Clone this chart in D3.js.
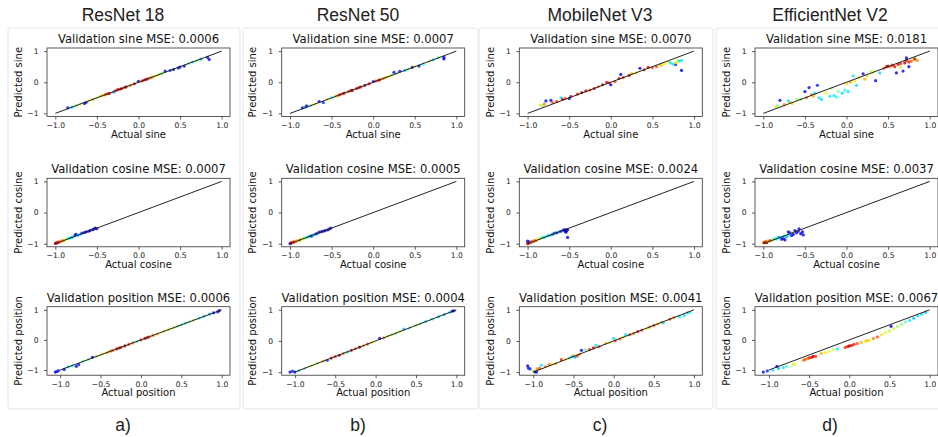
<!DOCTYPE html>
<html><head><meta charset="utf-8">
<script src="https://cdn.jsdelivr.net/npm/d3@7"></script>
<style>
html,body{margin:0;padding:0;background:#fff;}
svg{display:block;}
</style></head>
<body>
<svg id="chart" width="938" height="437"></svg>
<script>
// ---------------- DATA ----------------
const models = ["ResNet 18", "ResNet 50", "MobileNet V3", "EfficientNet V2"];
const panelLetters = ["a)", "b)", "c)", "d)"];
const quantities = ["sine", "cosine", "position"];
const sineMSE = ["0.0006", "0.0007", "0.0070", "0.0181"];
const cosineMSE = ["0.0007", "0.0005", "0.0024", "0.0037"];
const positionMSE = ["0.0006", "0.0004", "0.0041", "0.0067"];
const xTicks = [-1.0, -0.5, 0.0, 0.5, 1.0];
const yTicks = [-1, 0, 1];

// points: [actual, predicted, colour value 0..1 (jet)]
const resnet18Sine = [[-0.85,-0.82,0.1],[-0.8,-0.8,0.35],[-0.75,-0.75,0.5],[-0.7,-0.7,0.6],[-0.65,-0.68,0.1],[-0.63,-0.65,0.15],[-0.6,-0.6,0.6],[-0.55,-0.55,0.7],[-0.5,-0.5,0.55],[-0.45,-0.44,0.7],[-0.42,-0.42,0.65],[-0.4,-0.4,0.8],[-0.37,-0.37,0.85],[-0.35,-0.36,0.9],[-0.3,-0.32,0.3],[-0.28,-0.28,0.85],[-0.25,-0.24,0.95],[-0.22,-0.22,0.88],[-0.2,-0.2,0.9],[-0.17,-0.17,0.8],[-0.15,-0.15,0.97],[-0.1,-0.1,0.75],[-0.05,-0.05,0.9],[0,0.03,0.1],[0.03,0.03,0.7],[0.05,0.05,0.85],[0.08,0.08,0.97],[0.1,0.1,0.9],[0.12,0.12,0.8],[0.15,0.15,0.75],[0.18,0.17,0.7],[0.22,0.22,0.6],[0.25,0.25,0.55],[0.28,0.28,0.5],[0.32,0.36,0.1],[0.38,0.38,0.2],[0.42,0.41,0.1],[0.48,0.46,0.1],[0.5,0.49,0.15],[0.55,0.52,0.1],[0.6,0.6,0.45],[0.65,0.65,0.35],[0.7,0.69,0.5],[0.75,0.74,0.3],[0.83,0.8,0.1],[0.85,0.73,0.1]];
const resnet50Sine = [[-0.85,-0.82,0.1],[-0.82,-0.8,0.3],[-0.8,-0.76,0.1],[-0.75,-0.75,0.5],[-0.7,-0.7,0.6],[-0.65,-0.62,0.1],[-0.6,-0.65,0.15],[-0.55,-0.55,0.65],[-0.5,-0.5,0.4],[-0.45,-0.45,0.7],[-0.42,-0.42,0.75],[-0.4,-0.4,0.85],[-0.37,-0.37,0.8],[-0.35,-0.35,0.9],[-0.3,-0.3,0.8],[-0.27,-0.27,0.9],[-0.25,-0.26,0.95],[-0.2,-0.2,0.9],[-0.17,-0.17,0.88],[-0.15,-0.15,0.85],[-0.1,-0.1,0.97],[-0.05,-0.05,0.9],[0,0.02,0.15],[0.03,0.04,0.85],[0.06,0.06,0.8],[0.08,0.08,0.9],[0.12,0.12,0.75],[0.15,0.15,0.7],[0.18,0.18,0.65],[0.22,0.22,0.55],[0.25,0.32,0.1],[0.28,0.28,0.5],[0.32,0.35,0.15],[0.38,0.38,0.35],[0.42,0.42,0.5],[0.47,0.48,0.1],[0.5,0.5,0.6],[0.55,0.52,0.1],[0.6,0.58,0.4],[0.68,0.68,0.55],[0.72,0.72,0.35],[0.78,0.78,0.45],[0.85,0.75,0.1],[0.85,0.8,0.1]];
const mobilenetSine = [[-0.85,-0.73,0.65],[-0.82,-0.75,0.5],[-0.8,-0.7,0.75],[-0.78,-0.6,0.1],[-0.72,-0.58,0.1],[-0.7,-0.65,0.8],[-0.65,-0.62,0.85],[-0.6,-0.5,0.35],[-0.58,-0.55,0.9],[-0.55,-0.52,0.8],[-0.5,-0.52,0.1],[-0.48,-0.45,0.9],[-0.4,-0.38,0.85],[-0.35,-0.33,0.95],[-0.3,-0.28,0.9],[-0.25,-0.25,0.8],[-0.2,-0.2,0.9],[-0.15,-0.14,0.75],[-0.1,-0.08,0.95],[-0.05,0,0.9],[-0.02,-0.02,0.85],[0,-0.08,0.1],[0.05,0.02,0.8],[0.1,0.12,0.9],[0.12,0.25,0.1],[0.15,0.15,0.85],[0.22,0.22,0.9],[0.25,0.28,0.7],[0.3,0.3,0.65],[0.35,0.45,0.1],[0.4,0.4,0.85],[0.45,0.48,0.9],[0.5,0.47,0.8],[0.55,0.5,0.8],[0.6,0.55,0.7],[0.62,0.58,0.65],[0.65,0.6,0.6],[0.7,0.65,0.65],[0.72,0.62,0.35],[0.75,0.58,0.35],[0.78,0.57,0.1],[0.78,0.62,0.65],[0.8,0.7,0.6],[0.82,0.68,0.35],[0.85,0.7,0.35],[0.85,0.38,0.1]];
const efficientnetSine = [[-0.85,-0.78,0.65],[-0.83,-0.75,0.5],[-0.8,-0.58,0.1],[-0.75,-0.72,0.75],[-0.7,-0.6,0.35],[-0.68,-0.65,0.7],[-0.65,-0.68,0.65],[-0.6,-0.55,0.55],[-0.55,-0.55,0.5],[-0.5,-0.3,0.1],[-0.48,-0.5,0.75],[-0.45,-0.17,0.1],[-0.42,-0.4,0.75],[-0.4,-0.45,0.7],[-0.38,-0.35,0.35],[-0.35,-0.1,0.15],[-0.33,-0.5,0.35],[-0.3,-0.55,0.35],[-0.25,-0.35,0.6],[-0.2,-0.45,0.35],[-0.18,-0.2,0.55],[-0.15,-0.43,0.35],[-0.12,-0.48,0.4],[-0.1,-0.3,0.5],[-0.05,-0.35,0.35],[-0.02,-0.25,0.4],[0.0,-0.05,0.65],[0.02,-0.3,0.35],[0.05,0.0,0.7],[0.08,0.2,0.35],[0.1,0.05,0.65],[0.12,-0.1,0.35],[0.15,0.15,0.65],[0.2,0.27,0.1],[0.22,0.1,0.7],[0.25,0.2,0.65],[0.3,0.35,0.55],[0.32,0.3,0.6],[0.35,0.05,0.1],[0.4,0.3,0.35],[0.45,0.45,0.8],[0.48,0.5,0.9],[0.5,0.52,0.95],[0.52,0.5,0.75],[0.55,0.55,0.85],[0.58,0.5,0.88],[0.6,0.3,0.1],[0.62,0.57,0.9],[0.65,0.6,0.85],[0.65,0.48,0.55],[0.68,0.36,0.1],[0.7,0.62,0.95],[0.72,0.7,0.9],[0.72,0.78,0.1],[0.75,0.65,0.88],[0.75,0.5,0.1],[0.78,0.68,0.8],[0.8,0.72,0.65],[0.82,0.75,0.95],[0.85,0.7,0.75]];

const resnet18Cosine = [[-1,-0.99,0.97],[-0.99,-0.98,0.95],[-0.98,-0.97,0.9],[-0.97,-0.96,0.88],[-0.96,-0.95,0.85],[-0.95,-0.94,0.8],[-0.93,-0.92,0.7],[-0.92,-0.91,0.75],[-0.9,-0.9,0.75],[-0.88,-0.87,0.6],[-0.86,-0.85,0.5],[-0.84,-0.83,0.4],[-0.82,-0.81,0.35],[-0.8,-0.8,0.3],[-0.78,-0.77,0.35],[-0.76,-0.72,0.15],[-0.75,-0.7,0.1],[-0.73,-0.73,0.3],[-0.7,-0.7,0.35],[-0.68,-0.66,0.15],[-0.65,-0.64,0.1],[-0.63,-0.62,0.1],[-0.6,-0.6,0.12],[-0.58,-0.57,0.05],[-0.55,-0.55,0.1],[-0.53,-0.52,0.1],[-0.52,-0.5,0.05],[-0.5,-0.52,0.1]];
const resnet50Cosine = [[-1,-1.0,0.1],[-0.99,-0.98,0.97],[-0.98,-0.97,0.9],[-0.97,-0.96,0.85],[-0.96,-0.95,0.8],[-0.95,-0.94,0.85],[-0.93,-0.93,0.75],[-0.92,-0.91,0.7],[-0.9,-0.9,0.65],[-0.88,-0.88,0.8],[-0.86,-0.86,0.6],[-0.84,-0.83,0.55],[-0.82,-0.82,0.5],[-0.8,-0.8,0.45],[-0.78,-0.78,0.35],[-0.76,-0.76,0.3],[-0.74,-0.75,0.1],[-0.72,-0.72,0.35],[-0.7,-0.7,0.3],[-0.68,-0.68,0.15],[-0.65,-0.63,0.1],[-0.62,-0.61,0.1],[-0.6,-0.6,0.15],[-0.58,-0.58,0.1],[-0.55,-0.56,0.1],[-0.53,-0.53,0.05],[-0.51,-0.5,0.1]];
const mobilenetCosine = [[-1,-1.0,0.9],[-1,-0.92,0.1],[-0.99,-0.98,0.95],[-0.98,-0.94,0.15],[-0.97,-0.97,0.85],[-0.96,-0.95,0.8],[-0.95,-0.93,0.75],[-0.93,-0.92,0.85],[-0.92,-0.9,0.7],[-0.9,-0.9,0.8],[-0.88,-0.86,0.6],[-0.86,-0.85,0.65],[-0.84,-0.82,0.5],[-0.82,-0.8,0.45],[-0.8,-0.8,0.35],[-0.78,-0.77,0.4],[-0.75,-0.74,0.3],[-0.72,-0.72,0.35],[-0.7,-0.7,0.25],[-0.68,-0.66,0.2],[-0.65,-0.65,0.15],[-0.62,-0.62,0.3],[-0.6,-0.6,0.15],[-0.57,-0.56,0.1],[-0.55,-0.55,0.1],[-0.55,-0.6,0.1],[-0.54,-0.63,0.1],[-0.53,-0.58,0.05],[-0.52,-0.8,0.1],[-0.52,-0.55,0.1]];
const efficientnetCosine = [[-1,-0.98,0.7],[-0.99,-0.96,0.85],[-0.98,-0.95,0.9],[-0.97,-0.93,0.8],[-0.96,-0.97,0.95],[-0.95,-0.92,0.75],[-0.93,-0.92,0.6],[-0.92,-0.9,0.85],[-0.9,-0.9,0.55],[-0.88,-0.86,0.45],[-0.86,-0.84,0.4],[-0.84,-0.85,0.35],[-0.82,-0.8,0.35],[-0.8,-0.8,0.3],[-0.78,-0.86,0.15],[-0.76,-0.83,0.1],[-0.75,-0.76,0.35],[-0.74,-0.88,0.1],[-0.72,-0.78,0.3],[-0.7,-0.72,0.35],[-0.7,-0.62,0.1],[-0.68,-0.65,0.15],[-0.66,-0.74,0.1],[-0.64,-0.7,0.1],[-0.62,-0.58,0.1],[-0.6,-0.65,0.1],[-0.58,-0.6,0.15],[-0.57,-0.52,0.1],[-0.55,-0.68,0.1],[-0.53,-0.62,0.1],[-0.52,-0.72,0.1]];

const resnet18Position = [[-1.06,-1.07,0.1],[-1.04,-1.05,0.1],[-1.02,-1.02,0.15],[-0.95,-0.98,0.1],[-0.9,-0.9,0.35],[-0.85,-0.86,0.4],[-0.8,-0.88,0.1],[-0.77,-0.82,0.15],[-0.72,-0.72,0.45],[-0.65,-0.65,0.5],[-0.6,-0.58,0.1],[-0.55,-0.55,0.55],[-0.48,-0.47,0.65],[-0.42,-0.42,0.7],[-0.38,-0.38,0.75],[-0.35,-0.35,0.8],[-0.3,-0.3,0.9],[-0.27,-0.27,0.95],[-0.25,-0.25,0.85],[-0.2,-0.2,0.95],[-0.15,-0.15,0.8],[-0.1,-0.1,0.75],[-0.05,-0.06,0.4],[0.0,0.0,0.85],[0.05,0.05,0.9],[0.08,0.08,0.95],[0.1,0.1,0.8],[0.15,0.15,0.75],[0.2,0.2,0.7],[0.28,0.28,0.65],[0.35,0.35,0.6],[0.4,0.4,0.55],[0.45,0.45,0.5],[0.5,0.5,0.45],[0.55,0.56,0.4],[0.6,0.6,0.5],[0.65,0.66,0.55],[0.72,0.72,0.4],[0.78,0.78,0.35],[0.85,0.86,0.3],[0.9,0.9,0.1],[0.95,0.93,0.15],[0.97,0.97,0.1]];
const resnet50Position = [[-1.06,-1.0,0.1],[-1.03,-0.97,0.15],[-1.0,-1.0,0.05],[-0.95,-0.95,0.4],[-0.88,-0.88,0.5],[-0.8,-0.8,0.6],[-0.72,-0.72,0.55],[-0.65,-0.65,0.7],[-0.6,-0.62,0.15],[-0.55,-0.55,0.9],[-0.5,-0.5,0.85],[-0.45,-0.46,0.95],[-0.4,-0.4,0.75],[-0.35,-0.36,0.35],[-0.3,-0.3,0.9],[-0.25,-0.25,0.8],[-0.2,-0.2,0.95],[-0.15,-0.15,0.7],[-0.1,-0.1,0.8],[-0.05,-0.05,0.65],[0.05,0.08,0.1],[0.1,0.1,0.75],[0.15,0.15,0.6],[0.2,0.2,0.55],[0.25,0.25,0.5],[0.3,0.3,0.6],[0.35,0.38,0.3],[0.42,0.42,0.45],[0.5,0.5,0.55],[0.55,0.55,0.5],[0.62,0.62,0.35],[0.7,0.7,0.4],[0.78,0.78,0.35],[0.85,0.85,0.3],[0.92,0.92,0.35],[0.95,0.96,0.1],[0.97,0.97,0.05]];
const mobilenetPosition = [[-1.07,-0.8,0.1],[-1.06,-0.87,0.1],[-1.04,-0.9,0.15],[-1.0,-0.96,0.65],[-0.98,-0.99,0.1],[-0.96,-1.0,0.1],[-0.95,-0.9,0.75],[-0.92,-0.88,0.8],[-0.9,-0.78,0.35],[-0.85,-0.82,0.75],[-0.8,-0.76,0.8],[-0.78,-0.75,0.65],[-0.72,-0.73,0.7],[-0.65,-0.6,0.85],[-0.6,-0.6,0.6],[-0.55,-0.55,0.45],[-0.52,-0.5,0.35],[-0.5,-0.47,0.7],[-0.48,-0.52,0.3],[-0.45,-0.48,0.8],[-0.42,-0.42,0.75],[-0.4,-0.3,0.1],[-0.35,-0.28,0.5],[-0.3,-0.28,0.85],[-0.25,-0.22,0.9],[-0.22,-0.14,0.35],[-0.18,-0.18,0.8],[-0.1,-0.08,0.7],[-0.05,-0.06,0.55],[0.0,0.08,0.35],[0.02,0.0,0.8],[0.08,0.06,0.75],[0.12,0.12,0.65],[0.15,0.2,0.35],[0.2,0.2,0.8],[0.25,0.24,0.75],[0.3,0.3,0.85],[0.35,0.35,0.8],[0.42,0.4,0.6],[0.45,0.45,0.75],[0.5,0.5,0.8],[0.55,0.55,0.7],[0.6,0.6,0.75],[0.62,0.58,0.35],[0.7,0.7,0.8],[0.75,0.75,0.75],[0.82,0.78,0.35],[0.88,0.82,0.35],[0.92,0.9,0.35],[0.95,0.92,0.4]];
const efficientnetPosition = [[-1.07,-1.07,0.1],[-1.02,-1.03,0.15],[-0.95,-1.0,0.35],[-0.9,-0.88,0.1],[-0.88,-0.95,0.3],[-0.82,-0.92,0.35],[-0.78,-0.88,0.45],[-0.7,-0.82,0.55],[-0.68,-0.8,0.6],[-0.57,-0.68,0.75],[-0.55,-0.65,0.8],[-0.52,-0.62,0.75],[-0.5,-0.6,0.85],[-0.47,-0.58,0.9],[-0.45,-0.55,0.95],[-0.42,-0.55,0.85],[-0.35,-0.45,0.7],[-0.3,-0.42,0.65],[-0.25,-0.38,0.6],[-0.2,-0.32,0.55],[-0.15,-0.3,0.35],[-0.05,-0.25,0.85],[-0.02,-0.22,0.9],[0.0,-0.2,0.95],[0.03,-0.18,0.9],[0.06,-0.15,0.85],[0.1,-0.12,0.8],[0.15,-0.08,0.7],[0.2,-0.05,0.65],[0.22,-0.02,0.7],[0.25,-0.02,0.65],[0.3,0.05,0.75],[0.35,0.1,0.8],[0.4,0.18,0.65],[0.45,0.25,0.6],[0.5,0.3,0.55],[0.52,0.45,0.1],[0.55,0.38,0.6],[0.6,0.45,0.55],[0.65,0.52,0.5],[0.7,0.6,0.45],[0.75,0.65,0.35],[0.8,0.72,0.3],[0.85,0.8,0.35],[0.9,0.85,0.35],[0.95,0.92,0.3]];

const sineData = [resnet18Sine, resnet50Sine, mobilenetSine, efficientnetSine];
const cosineData = [resnet18Cosine, resnet50Cosine, mobilenetCosine, efficientnetCosine];
const positionData = [resnet18Position, resnet50Position, mobilenetPosition, efficientnetPosition];

// ---------------- LAYOUT ----------------
const colLeft = [47, 281.7, 519.3, 755];
const rowTop = [48, 178.3, 306.7];
const plotW = 183, plotH = 68.5;
const panelBoxes = [[8,28,232,381],[243,28,235,381],[479,28,234,381],[716,28,230,381]];
const headerX = [123, 358, 600, 830];

function jet(t){
  const c = v => Math.max(0, Math.min(1, v));
  const r = c(1.5 - Math.abs(4*t - 3)), g = c(1.5 - Math.abs(4*t - 2)), b = c(1.5 - Math.abs(4*t - 1));
  return d3.rgb(r*255, g*255, b*255).toString();
}
function mplDomain(vals){
  const lo = Math.min(-1, d3.min(vals)), hi = Math.max(1, d3.max(vals));
  const m = (hi - lo) * 0.05;
  return [lo - m, hi + m];
}

const svg = d3.select("#chart");
const plotFont = "DejaVu Sans, sans-serif";
const headFont = "Liberation Sans, Arial, sans-serif";

panelBoxes.forEach(b => {
  svg.append("rect").attr("x", b[0]).attr("y", b[1]).attr("width", b[2]).attr("height", b[3])
    .attr("fill", "none").attr("stroke", "#e6e6e6").attr("stroke-width", 1).attr("rx", 2);
});

const dataByRow = [sineData, cosineData, positionData];
const mseByRow = [sineMSE, cosineMSE, positionMSE];

models.forEach((m, ci) => {
  const cx = headerX[ci];
  svg.append("text").attr("x", cx).attr("y", 21).attr("text-anchor", "middle")
    .attr("font-family", headFont).attr("font-size", 17.5).attr("fill", "#222").text(m);
  svg.append("text").attr("x", cx).attr("y", 431).attr("text-anchor", "middle")
    .attr("font-family", headFont).attr("font-size", 17.5).attr("fill", "#222").text(panelLetters[ci]);

  quantities.forEach((q, ri) => {
    const pts = dataByRow[ri][ci];
    const x0 = colLeft[ci], y0 = rowTop[ri];
    const x = d3.scaleLinear().domain(mplDomain(pts.map(p => p[0]))).range([x0, x0 + plotW]);
    const y = d3.scaleLinear().domain(mplDomain(pts.map(p => p[1]))).range([y0 + plotH, y0]);
    const g = svg.append("g");

    g.selectAll("circle").data(pts).join("circle")
      .attr("cx", d => x(d[0])).attr("cy", d => y(d[1])).attr("r", 1.6)
      .attr("fill", d => jet(d[2])).attr("fill-opacity", 0.8);

    g.append("line").attr("x1", x(-1)).attr("y1", y(-1)).attr("x2", x(1)).attr("y2", y(1))
      .attr("stroke", "#222").attr("stroke-width", 1);

    const xa = g.append("g").attr("transform", `translate(0,${y0 + plotH})`)
      .call(d3.axisBottom(x).tickValues(xTicks).tickFormat(d3.format(".1f")).tickSizeOuter(0).tickSize(3).tickPadding(3));
    const ya = g.append("g").attr("transform", `translate(${x0},0)`)
      .call(d3.axisLeft(y).tickValues(yTicks).tickFormat(d3.format("d")).tickSizeOuter(0).tickSize(3).tickPadding(5.5));
    [xa, ya].forEach(a => {
      a.select(".domain").remove();
      a.selectAll("line").attr("stroke", "#333").attr("stroke-width", 0.8);
      a.selectAll("text").attr("font-family", plotFont).attr("font-size", 7.6).attr("fill", "#222");
    });

    g.append("rect").attr("x", x0).attr("y", y0).attr("width", plotW).attr("height", plotH)
      .attr("fill", "none").attr("stroke", "#333").attr("stroke-width", 0.8);

    g.append("text").attr("x", x0 + plotW/2).attr("y", y0 - 5).attr("text-anchor", "middle")
      .attr("font-family", plotFont).attr("font-size", 11.6).attr("fill", "#111")
      .text(`Validation ${q} MSE: ${mseByRow[ri][ci]}`);
    g.append("text").attr("x", x0 + plotW/2).attr("y", y0 + plotH + 21).attr("text-anchor", "middle")
      .attr("font-family", plotFont).attr("font-size", 10).attr("fill", "#111")
      .text(`Actual ${q}`);
    g.append("text").attr("transform", `translate(${x0 - 25.5},${y0 + plotH/2}) rotate(-90)`)
      .attr("text-anchor", "middle").attr("font-family", plotFont).attr("font-size", 10).attr("fill", "#111")
      .text(`Predicted ${q}`);
  });
});
</script>
</body></html>
